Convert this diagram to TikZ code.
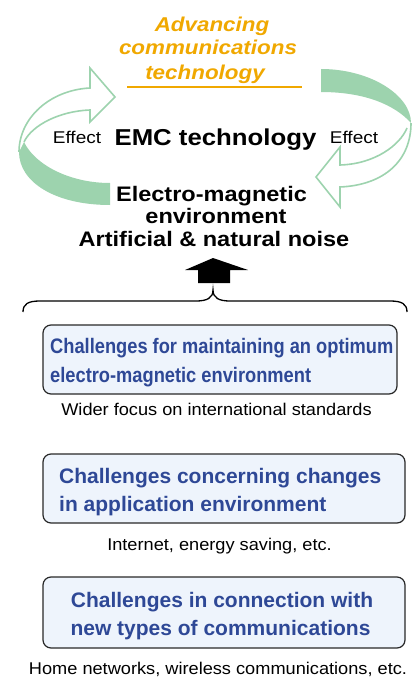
\documentclass[tikz,border=0pt]{standalone}
\usepackage{fontspec}
\setmainfont{Liberation Sans}
\newfontfamily\widefont[FakeStretch=1.12]{Liberation Sans}
\newfontfamily\narrowfont[FakeStretch=0.87]{Liberation Sans}
\newfontfamily\capfont[FakeStretch=1.07]{Liberation Sans}
\definecolor{emcgreen}{RGB}{157,211,174}
\definecolor{emcorange}{RGB}{240,168,0}
\definecolor{emcblue}{RGB}{46,72,150}
\definecolor{boxfill}{RGB}{238,244,252}
\definecolor{boxline}{RGB}{40,40,40}
\begin{document}
\begin{tikzpicture}[x=1pt,y=-1pt,
  lbl/.style={anchor=base, inner sep=0pt, outer sep=0pt},
  orangetxt/.style={lbl, text=emcorange, font=\widefont\bfseries\itshape\fontsize{20}{24}\selectfont},
  bigtxt/.style={lbl, font=\widefont\bfseries\fontsize{21}{24}\selectfont},
  effecttxt/.style={lbl, font=\widefont\fontsize{17}{20}\selectfont},
  captxt/.style={lbl, font=\capfont\fontsize{17}{20}\selectfont},
  chbox/.style={draw=boxline, fill=boxfill, rounded corners=8pt, line width=1.2pt, inner sep=0pt},
  boxtxt/.style={anchor=base west, inner sep=0pt, text=emcblue, font=\bfseries\fontsize{21}{24}\selectfont},
  backband/.style={draw=emcgreen, line width=1.6pt, fill=white, line join=miter},
]
\useasboundingbox (0,0) rectangle (418,677);

% ---- left green arrow (back part, outline) ----
\draw[backband] (19,152) .. controls (19,118) and (50,90) .. (90,88) -- (90,68) -- (115,97) -- (90,122) -- (90,110) .. controls (60,111) and (32,125) .. (24,142);
% front part (filled)
\fill[emcgreen] (110,183) -- (110,205) .. controls (55,205) and (19,182) .. (19,152) -- (24,142) .. controls (35,165) and (70,183) .. (110,183) -- cycle;

% ---- right green arrow ----
\draw[backband] (411,123) .. controls (411,160) and (385,185) .. (340,187) -- (340,207) -- (316,177) -- (340,147) -- (340,165) .. controls (375,164) and (400,145) .. (407,128);
\fill[emcgreen] (321,69) .. controls (370,69) and (411,95) .. (411,123) .. controls (395,105) and (365,92) .. (321,92) -- cycle;

% ---- top texts ----
\node[orangetxt] (adv1) at (212,32) {Advancing};
\node[orangetxt] (adv2) at (208,55) {communications};
\node[orangetxt] (adv3) at (205,79) {technology};
\coordinate (ulA) at (127,87);
\coordinate (ulB) at (302,87);
\draw[emcorange, line width=1.5pt] (ulA) -- (ulB);

\node[lbl, font=\widefont\bfseries\fontsize{23}{26}\selectfont] (emc) at (215.5,145) {EMC technology};
\node[effecttxt] (effL) at (77,143) {Effect};
\node[effecttxt] (effR) at (354,143) {Effect};

\node[bigtxt] (env1) at (211.5,201) {Electro-magnetic};
\node[bigtxt] (env2) at (216,223) {environment};
\node[bigtxt] (env3) at (214,246) {Artificial \& natural noise};

% ---- black block arrow ----
\fill[black] (213,258) -- (248,270) -- (230,270) -- (230,283) -- (198,283) -- (198,270) -- (185,270) -- cycle;

% ---- brace ----
\draw[black, line width=1.3pt] (23,312) .. controls (23,304) and (28,301) .. (40,301) -- (196,301) .. controls (207,301) and (213,298) .. (213,290) .. controls (213,298) and (219,301) .. (230,301) -- (390,301) .. controls (402,301) and (407,304) .. (407,312);

% ---- box 1 ----
\node[chbox, minimum width=354pt, minimum height=69pt] (box1) at (220,359.5) {};
\node[boxtxt, font=\narrowfont\bfseries\fontsize{21}{24}\selectfont] (b1a) at (50,353) {Challenges for maintaining an optimum};
\node[boxtxt, font=\narrowfont\bfseries\fontsize{21}{24}\selectfont] (b1b) at (50,382) {electro-magnetic environment};
\node[captxt] (cap1) at (216.5,415) {Wider focus on international standards};

% ---- box 2 ----
\node[chbox, minimum width=362pt, minimum height=69pt] (box2) at (224,488.5) {};
\node[boxtxt] (b2a) at (59,483) {Challenges concerning changes};
\node[boxtxt] (b2b) at (59,511) {in application environment};
\node[captxt] (cap2) at (219.5,550) {Internet, energy saving, etc.};

% ---- box 3 ----
\node[chbox, minimum width=362pt, minimum height=71pt] (box3) at (224,612.5) {};
\node[boxtxt, anchor=base] (b3a) at (222,607) {Challenges in connection with};
\node[boxtxt, anchor=base] (b3b) at (220.5,635) {new types of communications};
\node[captxt] (cap3) at (218,674) {Home networks, wireless communications, etc.};
\end{tikzpicture}
\end{document}
